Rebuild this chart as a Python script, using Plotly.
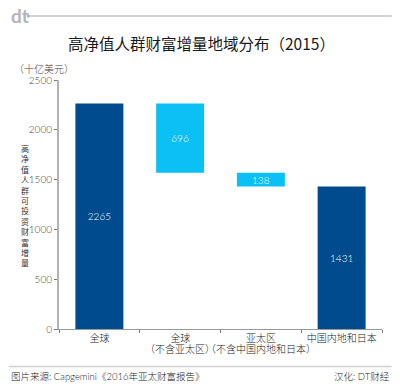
import plotly.graph_objects as go

categories = ["全球", "全球（不含亚太区）", "亚太区（不含中国内地和日本）", "中国内地和日本"]
tick_line1 = ["全球", "全球", "亚太区", "中国内地和日本"]
tick_line2 = ["", "（不含亚太区）", "（不含中国内地和日本）", ""]
values = [2265, 696, 138, 1431]
bases = [0, 1569, 1431, 0]
colors = ["#004b8d", "#0bc0f5", "#0bc0f5", "#004b8d"]
y_ticks = [0, 500, 1000, 1500, 2000, 2500]
y_title = "高净值人群可投资财富增量"
title = "高净值人群财富增量地域分布（2015）"
unit = "（十亿美元）"
source = "图片来源: Capgemini《2016年亚太财富报告》"
credit = "汉化: DT财经"

FONT = "Lato, 'Noto Sans CJK SC', sans-serif"
CJK = "'Noto Sans CJK SC', sans-serif"
GREY = "#b3b3b3"

fig = go.Figure(go.Bar(
    x=categories, y=values, base=bases,
    marker=dict(color=colors, line=dict(width=0)),
    width=0.594,
    text=[str(v) for v in values],
    textposition="inside", insidetextanchor="middle",
    insidetextfont=dict(color="#ffffff", size=10, family=FONT, weight=300),
    textangle=0, constraintext="none", cliponaxis=False,
    hoverinfo="skip",
))

def note(text, x, y, xanchor="left", size=10, color="#222222", family=FONT, weight=300, **kw):
    return dict(text=text, xref="paper", yref="paper", x=x, y=y, xanchor=xanchor, yanchor="middle",
                showarrow=False, font=dict(family=family, size=size, color=color, weight=weight), **kw)

notes = [
    note("dt", -0.155, 1.26, size=19, color="#b5b5b5", weight=700),
    note(title, 0.442, 1.149, xanchor="center", size=15.5, color="#1a1a1a", family=CJK, weight=400),
    note(unit, -0.147, 1.048, color="#444444", family=CJK),
    note(source, -0.155, -0.189, size=9.5),
    note(credit, 1.03, -0.189, xanchor="right", size=9.5),
    note("<br>".join(y_title), -0.105, 0.494, xanchor="center", size=8, family=CJK, weight=400,
         color="#333333", align="center"),
]
# second lines of the category labels
for cat, line in zip(categories, tick_line2):
    if line:
        notes.append(dict(text=line, xref="x", yref="paper", x=cat, y=-0.077, xanchor="center", yanchor="middle",
                          showarrow=False, font=dict(family=CJK, size=10, color="#222222", weight=300)))

fig.update_layout(
    width=400, height=387,
    margin=dict(l=59, r=18, t=80, b=58, autoexpand=False),
    paper_bgcolor="white", plot_bgcolor="white",
    showlegend=False,
    font=dict(family=FONT, color="#333333", size=10),
    xaxis=dict(
        type="category", categoryorder="array", categoryarray=categories,
        tickmode="array", tickvals=categories, ticktext=tick_line1,
        tickson="boundaries", ticks="outside", ticklen=3, tickwidth=1,
        tickangle=0, tickcolor="#777777", showgrid=False, showline=True, linecolor="#999999", linewidth=1,
        tickfont=dict(family=CJK, size=10, color="#222222", weight=300),
    ),
    yaxis=dict(
        range=[0, 2500], tickvals=y_ticks, ticks="outside", ticklen=3, tickwidth=1,
        tickcolor="#777777", showgrid=False, zeroline=False, showline=True,
        linecolor=GREY, linewidth=2,
        tickfont=dict(family=FONT, size=10, color="#444444", weight=300),
    ),
    shapes=[
        dict(type="line", xref="paper", yref="paper", x0=-0.092, x1=1.03, y0=1.257, y1=1.257,
             line=dict(color="#c4c4c4", width=1.5)),
        dict(type="circle", xref="paper", yref="paper", x0=-0.1, x1=-0.09, y0=1.2505, y1=1.2635,
             fillcolor="#b5b5b5", line=dict(width=0)),
        dict(type="line", xref="paper", yref="paper", x0=-0.155, x1=1.03, y0=-0.151, y1=-0.151,
             line=dict(color="#d0d0d0", width=1.5)),
    ],
    annotations=notes,
)

fig.write_html("out.html", config={"displayModeBar": False},
               post_script="document.body.style.margin='0';")
